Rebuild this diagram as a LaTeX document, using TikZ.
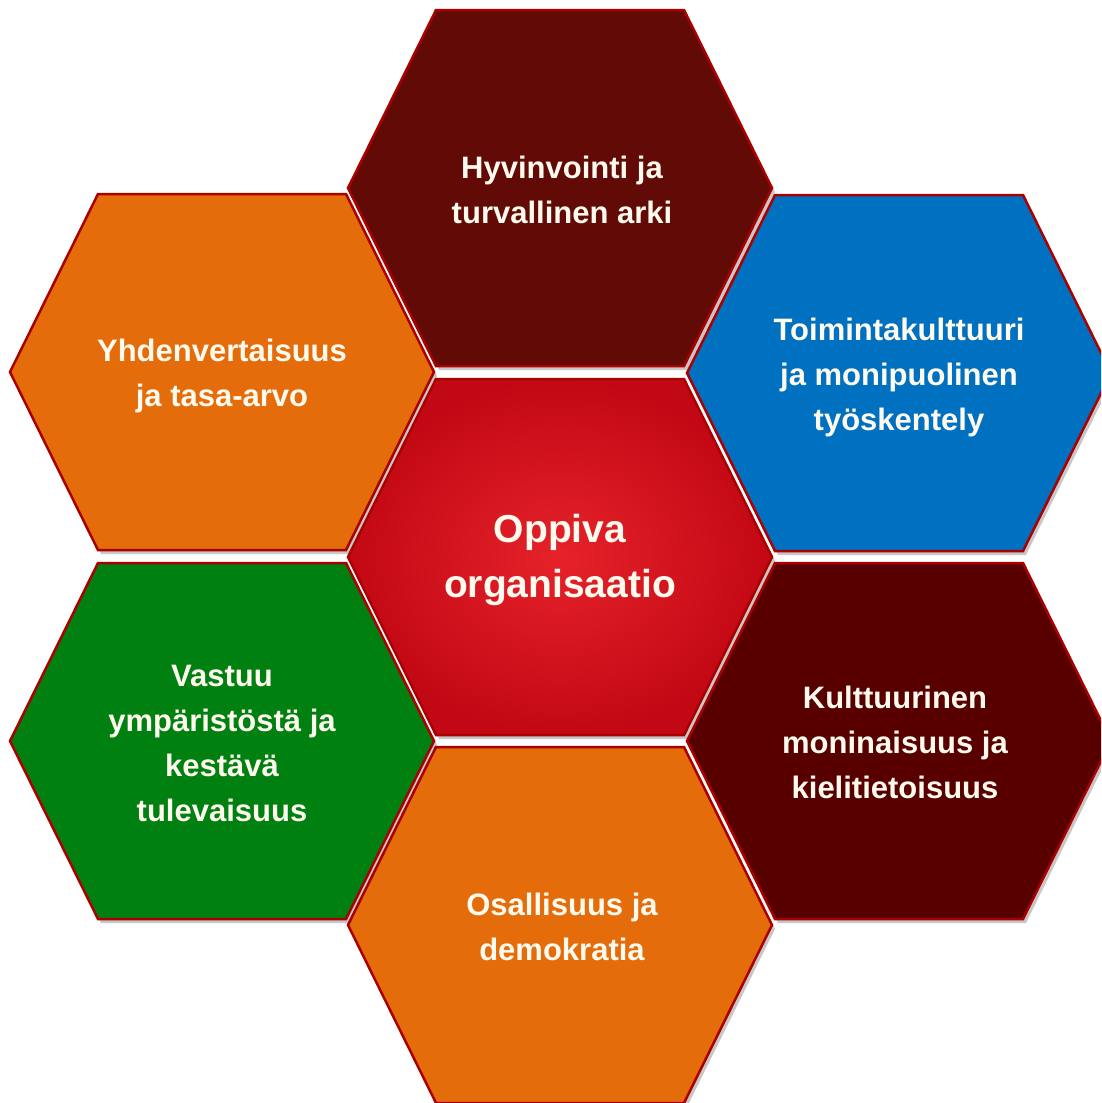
\documentclass[tikz,border=0pt]{standalone}
\usepackage{fontspec}
\setmainfont{Liberation Sans}
\definecolor{hOrange}{RGB}{228,108,10}
\definecolor{hBlue}{RGB}{0,112,192}
\definecolor{hGreen}{RGB}{0,128,16}
\definecolor{hMaroon}{RGB}{98,10,6}
\definecolor{hMaroonB}{RGB}{88,0,0}
\definecolor{hEdge}{RGB}{170,0,0}
\definecolor{hRedIn}{RGB}{230,34,42}
\definecolor{hRedOut}{RGB}{194,8,20}
\definecolor{hText}{RGB}{255,250,238}
\newcommand{\hexshape}{(-212,0) -- (-124,-178) -- (124,-178) -- (212,0) -- (124,178) -- (-124,178) -- cycle}
\begin{document}
\begin{tikzpicture}[x=1pt,y=-1pt,
  hexcell/.style={draw=hEdge, line width=2.5pt, line join=miter},
  hexshadow/.style={fill=black!22, draw=none},
  lbl/.style={text=hText, align=center, font=\bfseries\fontsize{31}{45}\selectfont},
  biglbl/.style={text=hText, align=center, font=\bfseries\fontsize{39}{55}\selectfont}]
\useasboundingbox (0,0) rectangle (1101,1103);
\fill[white] (0,0) rectangle (1101,1103);
\clip (0,0) rectangle (1101,1103);
% shadows
\foreach \cx/\cy in {560/188,560/557,560/925,222/372,222/741,899/373,899/741}
  \fill[hexshadow, shift={(\cx+3,\cy+4)}] \hexshape;
% hexagons
\draw[hexcell, fill=hMaroon, shift={(560,188)}] \hexshape;
\shade[inner color=hRedIn, outer color=hRedOut, shift={(560,557)}] \hexshape;
\draw[hexcell, shift={(560,557)}] \hexshape;
\draw[hexcell, fill=hOrange, shift={(560,925)}] \hexshape;
\draw[hexcell, fill=hOrange, shift={(222,372)}] \hexshape;
\draw[hexcell, fill=hGreen, shift={(222,741)}] \hexshape;
\draw[hexcell, fill=hBlue, shift={(899,373)}] \hexshape;
\draw[hexcell, fill=hMaroonB, shift={(899,741)}] \hexshape;
% labels
\node[lbl] (hyv) at (562,190) {Hyvinvointi ja\\turvallinen arki};
\node[biglbl] (opp) at (560,560) {Oppiva\\organisaatio};
\node[lbl] (osa) at (562,927) {Osallisuus ja\\demokratia};
\node[lbl] (yhd) at (222,376) {Yhdenvertaisuus\\ja tasa-arvo};
\node[lbl] (vas) at (222,743) {Vastuu\\ympäristöstä ja\\kestävä\\tulevaisuus};
\node[lbl] (toi) at (899,377) {Toimintakulttuuri\\ja monipuolinen\\työskentely};
\node[lbl] (kul) at (895,742) {Kulttuurinen\\moninaisuus ja\\kielitietoisuus};
\end{tikzpicture}
\end{document}
